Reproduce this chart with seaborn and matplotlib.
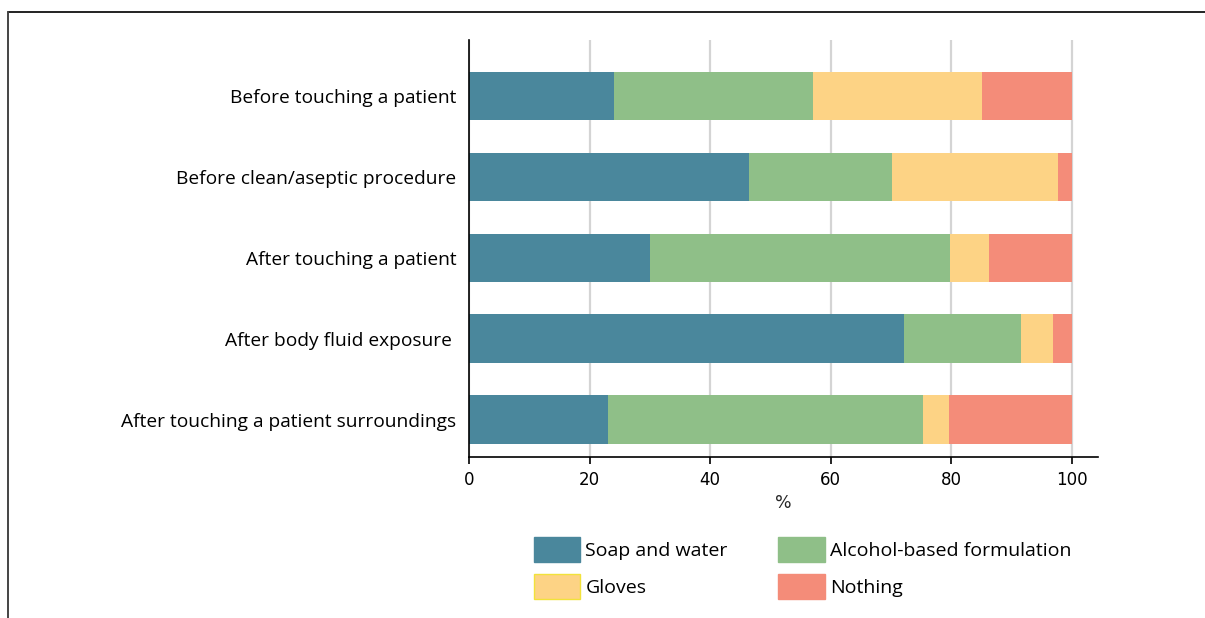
import matplotlib
matplotlib.use("Agg")
import matplotlib.pyplot as plt
import matplotlib.patches as mpatches
from matplotlib.lines import Line2D
import seaborn as sns
import pandas as pd
import numpy as np

# data (percent of responses)
moments = ["Before touching a patient",
           "Before clean/aseptic procedure",
           "After touching a patient",
           "After body fluid exposure ",
           "After touching a patient surroundings"]
soap = [24.0, 46.4, 30.0, 72.2, 23.1]
alcohol = [33.0, 23.7, 49.8, 19.4, 52.1]
gloves = [28.0, 27.5, 6.5, 5.3, 4.4]
nothing = [15.0, 2.4, 13.7, 3.1, 20.4]

series = ["Soap and water", "Alcohol-based formulation", "Gloves", "Nothing"]
colors = ["#4A879C", "#8FBF88", "#FDD385", "#F48C79"]

df = pd.DataFrame({"moment": moments, "Soap and water": soap,
                   "Alcohol-based formulation": alcohol,
                   "Gloves": gloves, "Nothing": nothing})
cum = df[series].cumsum(axis=1)
cum["moment"] = df["moment"]

sns.set_style("white")
plt.rcParams['font.family'] = ['Open Sans', 'DejaVu Sans']
plt.rcParams['text.color'] = 'black'
plt.rcParams['xtick.color'] = 'black'
plt.rcParams['ytick.color'] = 'black'

fig = plt.figure(figsize=(12.05, 6.18), dpi=100)
ax = fig.add_axes([0.3892, 0.2605, 0.522, 0.6748])

# stacked bars: draw cumulative totals from the right end back to the left
for name, col in zip(series[::-1], colors[::-1]):
    sns.barplot(data=cum, x=name, y="moment", color=col, orient="h",
                width=0.6, ax=ax, saturation=1, linewidth=0)

ax.set_xlim(0, 104.3)
ax.set_ylim(4.46, -0.69)
ax.set_xticks([0, 20, 40, 60, 80, 100])
ax.set_xticklabels(["0", "20", "40", "60", "80", "100"], family="DejaVu Sans", fontsize=12)
ax.xaxis.grid(True, color="#d4d4d4", linewidth=1.6)
ax.set_axisbelow(True)
ax.tick_params(axis="x", direction="out", length=5, width=1.2, color="black", pad=5, bottom=True)
ax.tick_params(axis="y", length=0, pad=9, labelsize=13.8)
ax.set_ylabel("")
ax.set_xlabel("%", family="DejaVu Sans", fontsize=12.5, labelpad=4)
for s in ["top", "right"]:
    ax.spines[s].set_visible(False)
for s in ["left", "bottom"]:
    ax.spines[s].set_color("black")
    ax.spines[s].set_linewidth(1.2)

handles = [mpatches.Patch(facecolor=c, edgecolor=("#F2E23A" if n == "Gloves" else c),
                          linewidth=1, label=n) for n, c in zip(series, colors)]
# two columns filled column-wise: put Soap/Gloves in column 1, Alcohol/Nothing in column 2
handles = [handles[0], handles[2], handles[1], handles[3]]
fig.legend(handles=handles, ncol=2, loc="upper left", bbox_to_anchor=(0.443, 0.131),
           frameon=False, fontsize=14, handlelength=2.4, handleheight=1.6,
           handletextpad=0.25, columnspacing=2.6, labelspacing=0.62, borderpad=0,
           borderaxespad=0)

# outer frame lines
fig.add_artist(Line2D([8 / 1205, 1], [1 - 12 / 618, 1 - 12 / 618], color="#222222", linewidth=1.4))
fig.add_artist(Line2D([8 / 1205, 8 / 1205], [0, 1 - 12 / 618], color="#444444", linewidth=1.4))

fig.savefig("out.png", dpi=100)
